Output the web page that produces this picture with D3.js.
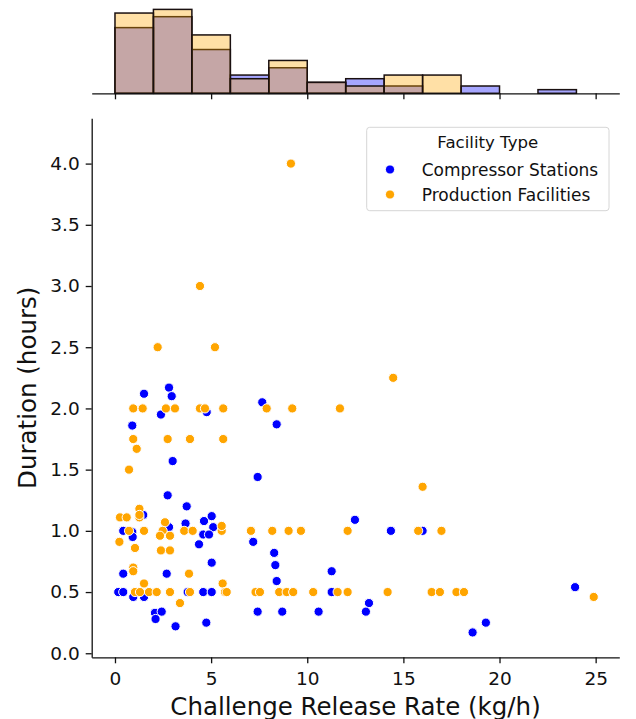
<!DOCTYPE html>
<meta charset="utf-8">
<style>
body { margin: 0; background: #fff; }
text { font-family: "DejaVu Sans", sans-serif; fill: #111; }
.axis path, .axis line { stroke: #111; stroke-width: 1.3; }
</style>
<svg width="636" height="719"></svg>
<script src="https://d3js.org/d3.v7.min.js"></script>
<script>

// facility types (hue)
var facilityTypes = ["Compressor Stations", "Production Facilities"];
var facilityColors = ["blue", "orange"];

// compressor stations: release rate (kg/h) and duration (hours)
var compRate = [2.81, 1.51, 2.95, 2.39, 4.77, 7.66, 8.41, 0.90, 3.00, 7.42,
  2.74, 3.73, 1.47, 3.67, 4.63, 5.03, 5.11, 2.81, 0.43, 0.90,
  0.92, 4.59, 4.89, 4.37, 7.19, 8.28, 8.34, 5.03, 2.69, 0.43,
  8.41, 11.27, 0.17, 0.43, 0.95, 1.51, 3.78, 4.59, 5.03, 11.27,
  2.08, 2.43, 2.11, 3.15, 4.75, 7.42, 8.70, 10.59, 12.48, 14.35,
  16.00, 13.21, 13.05, 18.60, 19.29, 23.93];
var compDuration = [2.17, 2.12, 2.10, 1.95, 1.97, 2.05, 1.87, 1.86, 1.57, 1.44,
  1.29, 1.20, 1.13, 1.06, 1.08, 1.12, 1.03, 1.03, 1.00, 0.99,
  0.95, 0.97, 0.97, 0.89, 0.91, 0.82, 0.72, 0.74, 0.65, 0.65,
  0.59, 0.67, 0.50, 0.50, 0.46, 0.46, 0.50, 0.50, 0.50, 0.50,
  0.33, 0.34, 0.28, 0.22, 0.25, 0.34, 0.34, 0.34, 1.09, 1.00,
  1.00, 0.41, 0.34, 0.17, 0.25, 0.54];

// production facilities: release rate (kg/h) and duration (hours)
var prodRate = [0.95, 1.44, 2.65, 3.12, 4.42, 4.68, 5.63, 7.89, 9.22, 11.70,
  0.95, 2.74, 3.90, 5.63, 1.13, 0.73, 0.26, 0.61, 1.27, 1.27,
  1.27, 2.60, 0.73, 1.51, 2.48, 3.60, 4.04, 5.55, 7.07, 8.18,
  9.03, 9.67, 12.10, 5.55, 0.23, 2.34, 2.86, 1.04, 2.39, 2.86,
  0.95, 0.95, 3.85, 1.51, 5.60, 1.04, 1.30, 1.77, 2.17, 2.86,
  3.90, 5.72, 5.81, 7.31, 7.54, 8.54, 8.93, 9.27, 10.31, 11.58,
  12.10, 3.38, 14.47, 16.00, 15.77, 16.98, 14.18, 16.47, 16.90, 17.76,
  18.15, 24.90, 9.15, 4.42, 2.22, 5.20];
var prodDuration = [2.00, 2.00, 2.00, 2.00, 2.00, 2.00, 2.00, 2.00, 2.00, 2.00,
  1.75, 1.75, 1.75, 1.75, 1.67, 1.50, 1.11, 1.11, 1.11, 1.18,
  1.13, 1.07, 1.00, 1.00, 1.00, 1.00, 1.00, 1.00, 1.00, 1.00,
  1.00, 1.00, 1.00, 1.04, 0.91, 0.96, 0.96, 0.86, 0.84, 0.84,
  0.70, 0.67, 0.65, 0.57, 0.57, 0.50, 0.50, 0.50, 0.50, 0.50,
  0.50, 0.50, 0.50, 0.50, 0.50, 0.50, 0.50, 0.50, 0.50, 0.50,
  0.50, 0.41, 2.25, 1.36, 1.00, 1.00, 0.50, 0.50, 0.50, 0.50,
  0.50, 0.46, 4.00, 3.00, 2.50, 2.50];

// marginal histogram (counts per 2 kg/h bin)
var binEdges = [0, 2, 4, 6, 8, 10, 12, 14, 16, 18, 20, 22, 24];
var compCounts = [18, 21, 12, 5, 7, 3, 4, 2, 0, 2, 0, 1];
var prodCounts = [22, 23, 16, 4, 9, 3, 2, 5, 5, 0, 0, 0];

// tick labels
var xTicks = [0, 5, 10, 15, 20, 25];
var yTicks = [0, 0.5, 1, 1.5, 2, 2.5, 3, 3.5, 4];

var svg = d3.select("svg");

var x = d3.scaleLinear().domain([-1.211, 26.23]).range([91.7, 619.3]);
var y = d3.scaleLinear().domain([-0.033, 4.37]).range([657.3, 118.3]);
var hy = d3.scaleLinear().domain([0, 24.15]).range([93.3, 5.2]);

// ---- marginal histogram (blue layer first, orange on top)
var hist = svg.append("g");
[compCounts, prodCounts].forEach(function(counts, k) {
  var bins = counts.map(function(c, i) {
    return {x0: binEdges[i], x1: binEdges[i + 1], n: c};
  }).filter(function(b) { return b.n > 0; });

  hist.append("g")
    .selectAll("rect")
    .data(bins)
    .enter().append("rect")
      .attr("x", function(d) { return x(d.x0); })
      .attr("width", function(d) { return x(d.x1) - x(d.x0); })
      .attr("y", function(d) { return hy(d.n); })
      .attr("height", function(d) { return hy(0) - hy(d.n); })
      .attr("fill", facilityColors[k])
      .attr("fill-opacity", 0.35)
      .attr("stroke", "#1a1010")
      .attr("stroke-width", 1.5);
});

svg.append("g")
  .attr("class", "axis")
  .attr("transform", "translate(0," + hy(0) + ")")
  .call(d3.axisBottom(x).tickValues(xTicks).tickSize(6).tickSizeOuter(0).tickFormat(""));

// ---- scatter
var points = [];
compRate.forEach(function(r, i) { points.push({x: r, y: compDuration[i], t: 0}); });
prodRate.forEach(function(r, i) { points.push({x: r, y: prodDuration[i], t: 1}); });

svg.append("g")
  .selectAll("circle")
  .data(points)
  .enter().append("circle")
    .attr("cx", function(d) { return x(d.x); })
    .attr("cy", function(d) { return y(d.y); })
    .attr("r", 4.6)
    .attr("fill", function(d) { return facilityColors[d.t]; })
    .attr("stroke", "white")
    .attr("stroke-width", 1);

svg.append("g")
  .attr("class", "axis")
  .attr("transform", "translate(0," + y.range()[0] + ")")
  .call(d3.axisBottom(x).tickValues(xTicks).tickSize(6).tickPadding(9).tickSizeOuter(0));

svg.append("g")
  .attr("class", "axis")
  .attr("transform", "translate(" + x.range()[0] + ",0)")
  .call(d3.axisLeft(y).tickValues(yTicks).tickSize(6).tickPadding(6).tickSizeOuter(0)
    .tickFormat(d3.format(".1f")));

svg.selectAll(".axis text")
  .attr("fill", "#111")
  .style("font-family", "DejaVu Sans")
  .style("font-size", "18.5px");

svg.append("text")
  .attr("x", 355.5)
  .attr("y", 706)
  .attr("text-anchor", "middle")
  .attr("dominant-baseline", "central")
  .style("font-size", "24.5px")
  .text("Challenge Release Rate (kg/h)");

svg.append("text")
  .attr("transform", "translate(27,387.8) rotate(-90)")
  .attr("text-anchor", "middle")
  .attr("dominant-baseline", "central")
  .style("font-size", "24.5px")
  .text("Duration (hours)");

// ---- legend
var legend = svg.append("g");
legend.append("rect")
  .attr("x", 366.7).attr("y", 127.3)
  .attr("width", 242.3).attr("height", 83.4)
  .attr("rx", 3)
  .attr("fill", "white")
  .attr("stroke", "#d6d6d6")
  .attr("stroke-width", 1);

legend.append("text")
  .attr("x", 487.8).attr("y", 142)
  .attr("text-anchor", "middle")
  .attr("dominant-baseline", "central")
  .style("font-size", "16.6px")
  .text("Facility Type");

facilityTypes.forEach(function(name, k) {
  var ly = 169.5 + k * 25;
  legend.append("circle")
    .attr("cx", 390).attr("cy", ly)
    .attr("r", 4.6)
    .attr("fill", facilityColors[k])
    .attr("stroke", "white")
    .attr("stroke-width", 1);
  legend.append("text")
    .attr("x", 421.7).attr("y", ly)
    .attr("dominant-baseline", "central")
    .style("font-size", "17px")
    .text(name);
});

</script>
